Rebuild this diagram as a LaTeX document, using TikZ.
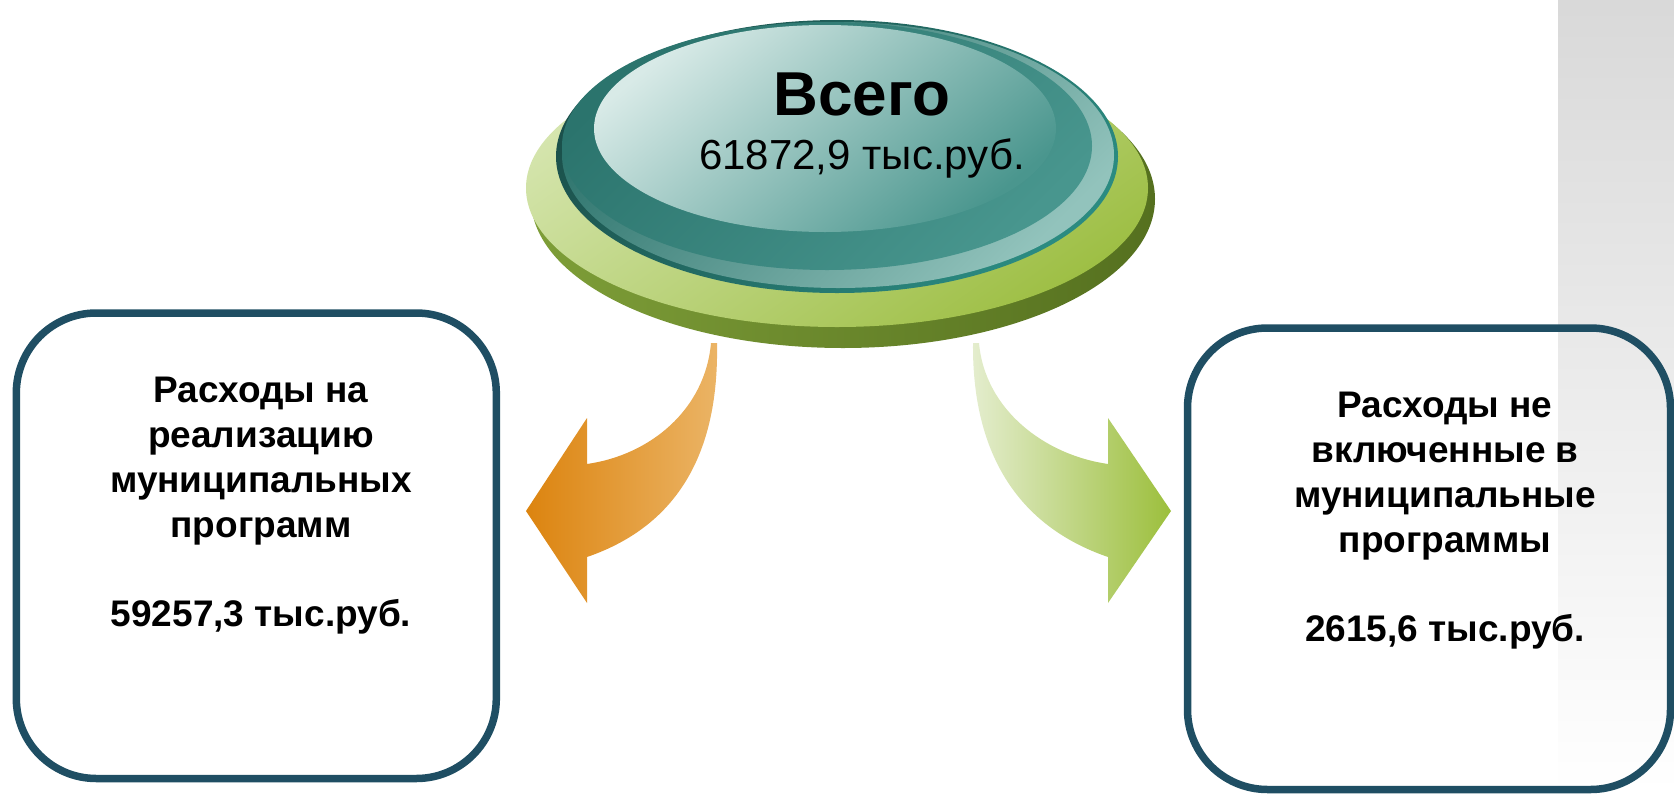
\documentclass[tikz,border=0pt]{standalone}
\usepackage{fontspec}
\setmainfont{Liberation Sans}
\definecolor{boxline}{HTML}{1F4E63}
\definecolor{rimdark}{HTML}{1B504B}
\definecolor{rimbright}{HTML}{2B8B81}
\definecolor{banddark}{HTML}{2B726B}
\definecolor{bandlight}{HTML}{92C3BC}
\definecolor{ringdark}{HTML}{2B746D}
\definecolor{ringlight}{HTML}{48968E}
\definecolor{facelight}{HTML}{D8EAE7}
\definecolor{facemid}{HTML}{7DB4AD}
\definecolor{facedark}{HTML}{4A968E}
\definecolor{greenlight}{HTML}{D5E5AE}
\definecolor{greendark}{HTML}{9EBF45}
\definecolor{sidelight}{HTML}{7E9E38}
\definecolor{sidedark}{HTML}{55701F}
\definecolor{orangedark}{HTML}{DC840F}
\definecolor{orangelight}{HTML}{EBB466}
\definecolor{lgreenlight}{HTML}{E4EDCE}
\definecolor{lgreendark}{HTML}{9CBF3C}
\begin{document}
\begin{tikzpicture}[x=1pt,y=-1pt,
  roundbox/.style={draw=boxline, line width=7.5pt, rounded corners=80pt},
  boxtext/.style={anchor=north, inner sep=0pt, align=center,
    font=\fontsize{37}{44.7}\selectfont\bfseries},
  ovaltext/.style={anchor=north, inner sep=0pt, align=center,
    font=\fontsize{42}{54}\selectfont}]
\useasboundingbox (0,0) rectangle (1674,793);
% grey strip on the right
\shade[top color=black!15, bottom color=white] (1558,0) rectangle (1674,793);

% curved arrows
\shade[left color=orangedark, right color=orangelight]
  (711,343) -- (717,343)
  .. controls (719,450) and (680,525) .. (587,557)
  -- (587,603) -- (526,511) -- (587,418) -- (587,464)
  .. controls (650,455) and (705,410) .. (711,343) -- cycle;
\shade[left color=lgreenlight, right color=lgreendark]
  (979,343) -- (973,343)
  .. controls (972,450) and (1015,525) .. (1108,557)
  -- (1108,603) -- (1171,511) -- (1108,418) -- (1108,464)
  .. controls (1045,455) and (985,410) .. (979,343) -- cycle;

% green disk
\shade[left color=sidelight, right color=sidedark]
  (843,199) ellipse [x radius=312, y radius=149];
\shade[top color=greenlight, bottom color=greendark, shading angle=35]
  (837,188) ellipse [x radius=311, y radius=139];

% teal disk
\shade[top color=rimdark, bottom color=rimbright, shading angle=45]
  (837,156.5) ellipse [x radius=281, y radius=136.5];
\shade[top color=banddark, bottom color=bandlight, shading angle=45]
  (838,155) ellipse [x radius=276, y radius=133];
\shade[top color=ringdark, bottom color=ringlight, shading angle=45]
  (827,146) ellipse [x radius=265, y radius=124];
\shade[top color=facelight, middle color=facemid, bottom color=facedark, shading angle=40]
  (825,128.5) ellipse [x radius=231, y radius=103.5];

\node[ovaltext] (total) at (862,72.6)
  {{\fontsize{62}{54}\selectfont\bfseries Всего}\\61872,9 тыс.руб.};

% boxes
\draw[roundbox] (16.3,313) rectangle (496.3,778.5);
\node[boxtext] (lefttext) at (261,377.3)
  {Расходы на\\реализацию\\муниципальных\\программ\\[44.7pt]59257,3 тыс.руб.};
\draw[roundbox] (1187.5,328) rectangle (1670.5,789.5);
\node[boxtext] (righttext) at (1445,392.3)
  {Расходы не\\включенные в\\муниципальные\\программы\\[44.7pt]2615,6 тыс.руб.};
\end{tikzpicture}
\end{document}
